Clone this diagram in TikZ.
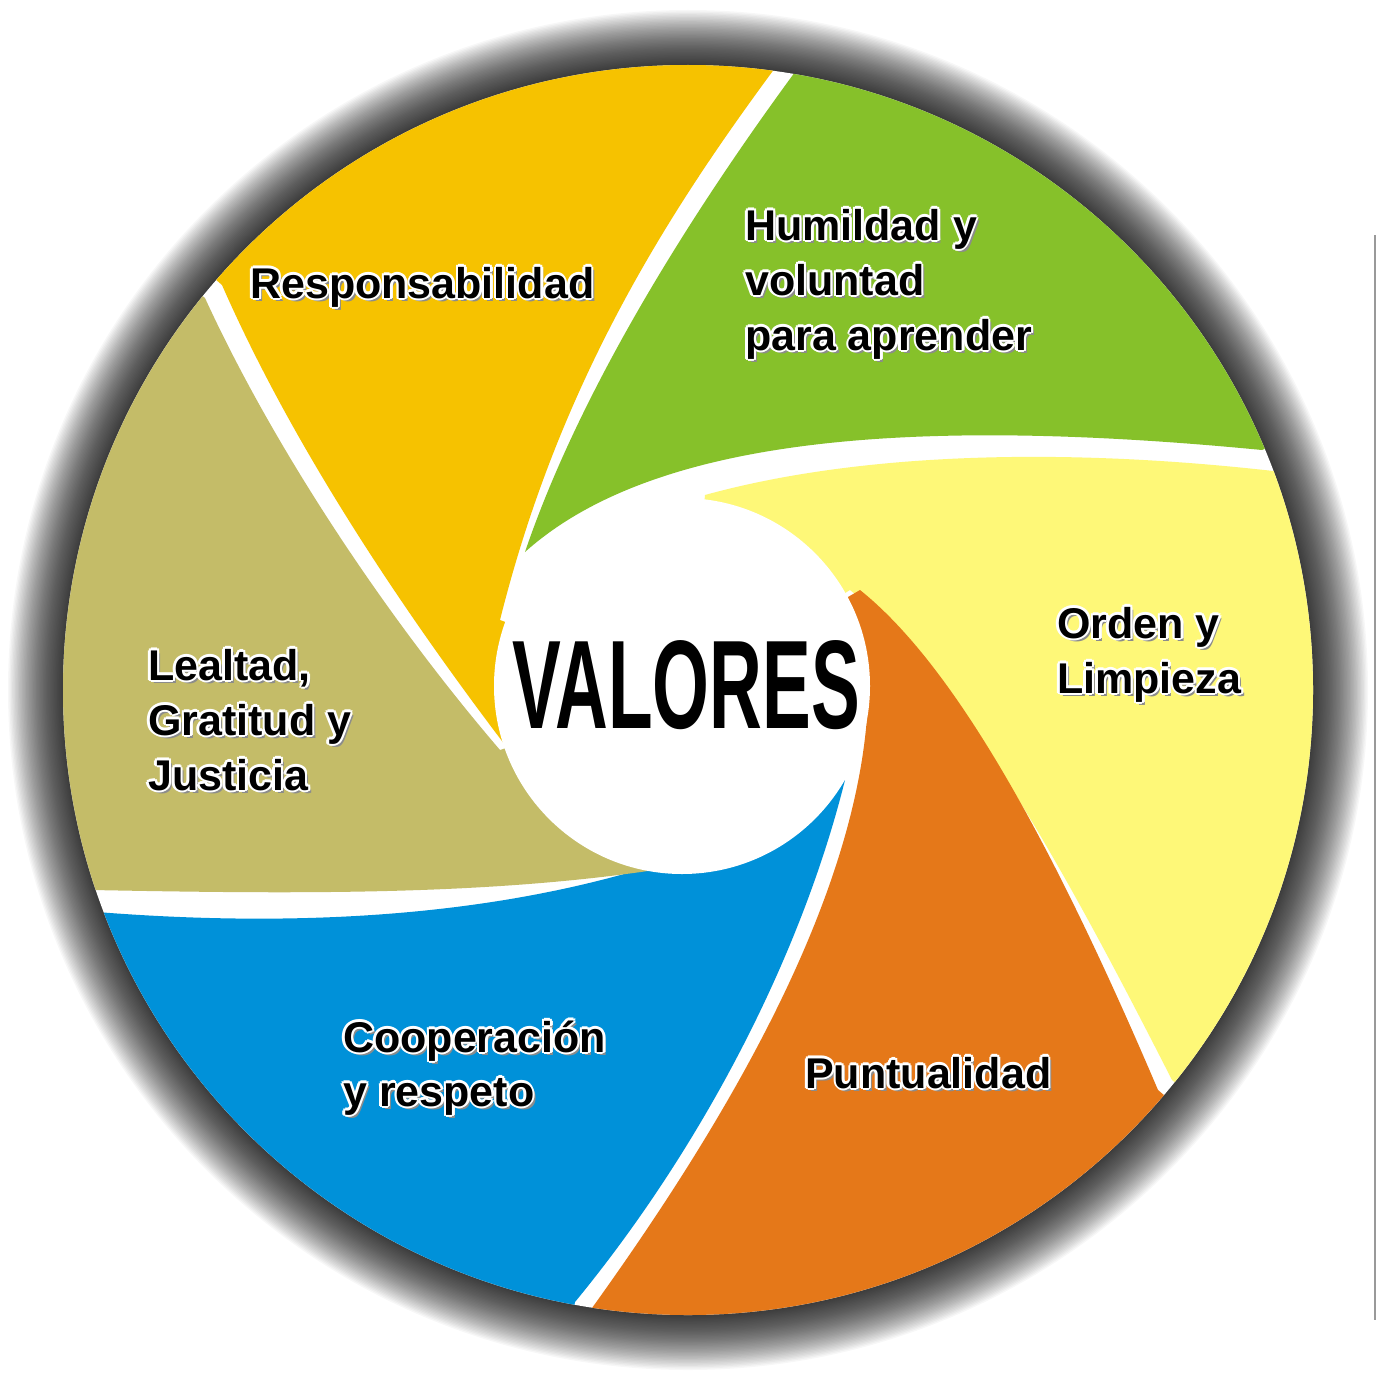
\documentclass[tikz,border=0pt]{standalone}
\usepackage{fontspec}
\setmainfont{Liberation Sans}
\usetikzlibrary{calc}
\definecolor{cYO}{HTML}{F6C200}
\definecolor{cGR}{HTML}{86C12A}
\definecolor{cYE}{HTML}{FEF878}
\definecolor{cOR}{HTML}{E57819}
\definecolor{cBL}{HTML}{0091D9}
\definecolor{cKH}{HTML}{C4BC68}
\tikzset{lbl/.style={font=\fontsize{43}{50}\selectfont\bfseries,inner sep=0pt,anchor=base west}}
\newcommand\olabel[3]{%
  \node[lbl,text=black!45,xshift=3pt,yshift=-3pt] at (#2) {#3};
  \foreach \dx/\dy in {2.5/0,-2.5/0,0/2.5,0/-2.5,1.8/1.8,-1.8/1.8,1.8/-1.8,-1.8/-1.8}
    \node[lbl,text=white,xshift=\dx pt,yshift=\dy pt] at (#2) {#3};
  \node[lbl] (#1) at (#2) {#3};}
\begin{document}
\begin{tikzpicture}[x=1pt,y=-1pt]
\useasboundingbox (0,0) rectangle (1378,1378);
\fill[white] (0,0) rectangle (1378,1378);
\coordinate (c) at (688,690);
\foreach \i in {0,...,39}
  \fill[black,opacity=0.032] (c) circle[radius={(680-1.4*\i)*1pt}];
\fill[white] (c) circle[radius=625pt];
\begin{scope}
\clip (c) circle[radius=625pt];
% Responsabilidad
\fill[cYO] (505,745) .. controls (395,600) and (290,440) .. (222,285)
  -- ($(c)!1.6!(222,285)$) -- ($(c)!1.6!(775,68)$) -- (775,68)
  .. controls (670,210) and (560,380) .. (500,620) -- (c) -- cycle;
% Humildad
\fill[cGR] (525,552) .. controls (580,390) and (690,215) .. (795,72)
  -- ($(c)!1.6!(795,72)$) -- ($(c)!1.6!(1262,450)$) -- (1262,450)
  .. controls (900,415) and (650,440) .. (525,552) -- cycle;
% Orden
\fill[cYE] (705,495) .. controls (850,455) and (1050,445) .. (1282,472)
  -- ($(c)!1.6!(1282,472)$) -- ($(c)!1.6!(1172,1080)$) -- (1172,1080)
  .. controls (1060,860) and (960,680) .. (850,590) -- (c) -- cycle;
% Puntualidad
\fill[cOR] (860,590) .. controls (960,670) and (1060,860) .. (1158,1090)
  -- ($(c)!1.6!(1158,1090)$) -- ($(c)!1.6!(592,1308)$) -- (592,1308)
  .. controls (720,1130) and (860,900) .. (868,700) -- (c) -- cycle;
% Cooperacion
\fill[cBL] (845,780) .. controls (800,960) and (700,1150) .. (575,1302)
  -- ($(c)!1.6!(575,1302)$) -- ($(c)!1.6!(97,912)$) -- (97,912)
  .. controls (350,932) and (630,912) .. (845,780) -- cycle;
% Lealtad
\fill[cKH] (680,866) .. controls (500,896) and (300,894) .. (92,890)
  -- ($(c)!1.6!(92,890)$) -- ($(c)!1.6!(205,298)$) -- (205,298)
  .. controls (270,440) and (380,610) .. (500,750) -- (c) -- cycle;
\end{scope}
\fill[white] (682,686) circle[radius=188pt];
\draw[black!40,line width=1.5pt] (1375,235) -- (1375,1320);
\node[font=\fontsize{126}{126}\selectfont\bfseries,xscale=0.58,inner sep=0pt] (val) at (686,685) {VALORES};
\olabel{t1}{250,298}{Responsabilidad}
\olabel{t2}{745,240}{Humildad y}
\olabel{t3}{745,295}{voluntad}
\olabel{t4}{745,350}{para aprender}
\olabel{t5}{1057,638}{Orden y}
\olabel{t6}{1057,693}{Limpieza}
\olabel{t7}{148,680}{Lealtad,}
\olabel{t8}{148,735}{Gratitud y}
\olabel{t9}{148,790}{Justicia}
\olabel{t10}{343,1052}{Cooperación}
\olabel{t11}{343,1106}{y respeto}
\olabel{t12}{805,1088}{Puntualidad}
\end{tikzpicture}
\end{document}
